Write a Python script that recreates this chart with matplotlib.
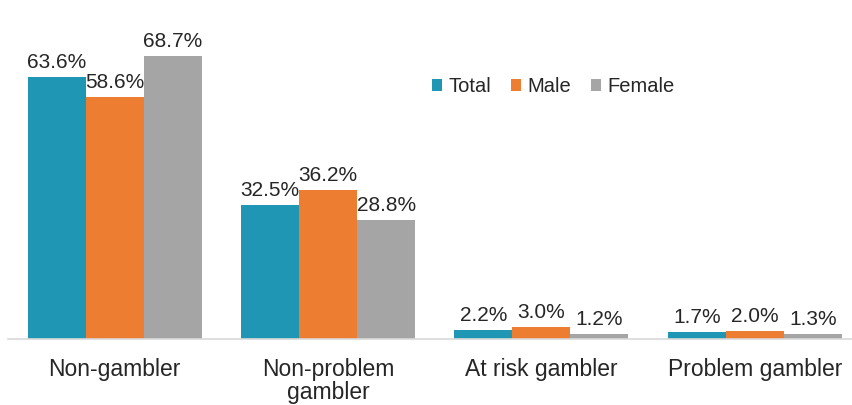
import numpy as np
import matplotlib.pyplot as plt

plt.rcParams['font.family'] = ['Liberation Sans', 'DejaVu Sans']

categories = ["Non-gambler", "Non-problem\ngambler", "At risk gambler", "Problem gambler"]
series = ["Total", "Male", "Female"]
total = [63.6, 32.5, 2.2, 1.7]
male = [58.6, 36.2, 3.0, 2.0]
female = [68.7, 28.8, 1.2, 1.3]
colors = ["#1F96B4", "#ED7D31", "#A5A5A5"]

fig = plt.figure(figsize=(8.53, 4.05), dpi=100)
ax = fig.add_axes([0.0094, 0.163, 0.988, 0.815])

x = np.arange(len(categories))
w = 0.272
for i, (name, vals) in enumerate(zip(series, [total, male, female])):
    bars = ax.bar(x + (i - 1) * w, vals, w, color=colors[i], label=name)
    for b, v in zip(bars, vals):
        ax.text(b.get_x() + b.get_width() / 2, v + 1.2, f"{v:.1f}%",
                ha="center", va="bottom", fontsize=15, color="#262626")

ax.set_xlim(-0.5, 3.45)
ax.set_ylim(0, 80)
ax.set_yticks([])
ax.set_xticks(x)
ax.set_xticklabels(categories, fontsize=16.5, color="#262626", linespacing=1.0)
ax.tick_params(axis="x", length=0, pad=14)
for s in ["top", "right", "left"]:
    ax.spines[s].set_visible(False)
ax.spines["bottom"].set_color("#D9D9D9")
ax.spines["bottom"].set_linewidth(1.2)

ax.legend(loc="center left", bbox_to_anchor=(0.482, 0.764), ncol=3, frameon=False,
          fontsize=14.5, handlelength=0.5, handleheight=0.5, handletextpad=0.3,
          columnspacing=1.0, labelcolor="#262626")

fig.savefig("out.png", dpi=100)
